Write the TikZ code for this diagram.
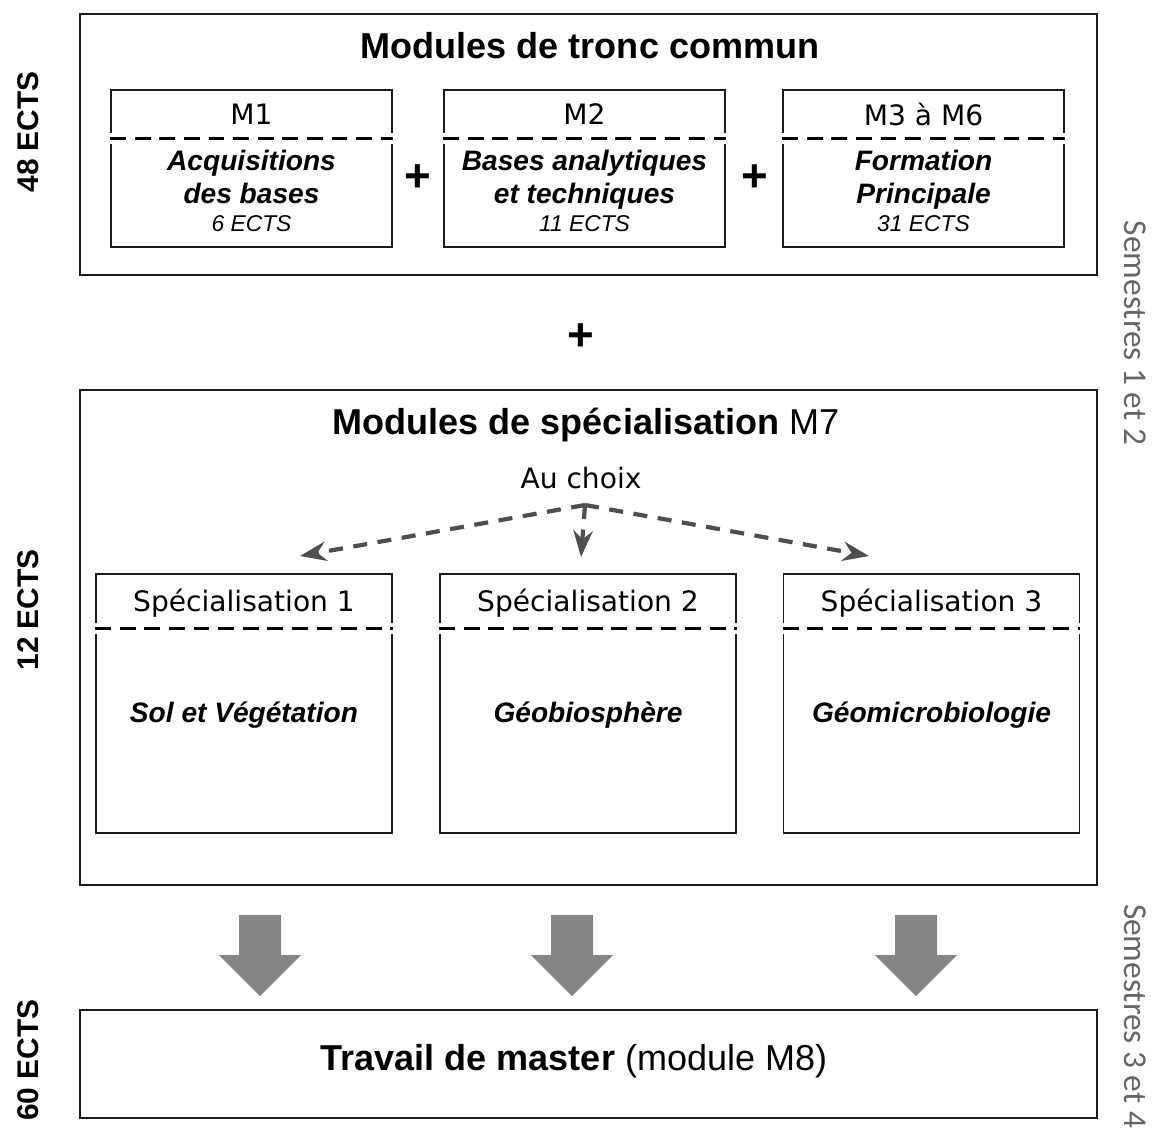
\documentclass[tikz,border=0pt]{standalone}
\usepackage{fontspec}
\setmainfont{Liberation Sans}
\newfontfamily\dejavu{DejaVu Sans}
\newfontfamily\carlito{Carlito}
\usetikzlibrary{arrows.meta,calc}
\definecolor{boxline}{HTML}{1a1a1a}
\definecolor{choixgray}{HTML}{4f4f4f}
\definecolor{blockgray}{HTML}{858585}
\definecolor{semgray}{HTML}{666666}

\begin{document}
\begin{tikzpicture}[
    x=0.02cm, y=-0.02cm,
    bigbox/.style={
        rectangle, draw=boxline, line width=1.4pt, minimum width=20.34cm
    },
    module/.style={
        rectangle, draw=boxline, line width=0.9pt,
        minimum width=5.62cm, minimum height=3.14cm
    },
    spec/.style={
        rectangle, draw=boxline, line width=0.9pt,
        minimum width=5.92cm, minimum height=5.18cm
    },
    divider/.style={draw=black, dash pattern=on 9pt off 5pt, line width=1.7pt},
    gap/.style={draw=white, line width=6pt},
    titre/.style={font=\fontsize{20.5}{24}\selectfont\bfseries, inner sep=0pt},
    code/.style={font=\dejavu\fontsize{16}{19}\selectfont, inner sep=0pt},
    nom/.style={font=\fontsize{16}{18.7}\selectfont\bfseries\itshape, align=center, inner sep=0pt},
    credits/.style={font=\fontsize{13}{15}\selectfont\itshape, inner sep=0pt},
    plus/.style={font=\fontsize{26}{26}\selectfont\bfseries, inner sep=0pt},
    ects/.style={font=\fontsize{17}{20}\selectfont\bfseries, rotate=90, inner sep=0pt},
    semestre/.style={font=\carlito\fontsize{19}{22}\selectfont, text=semgray, rotate=-90, inner sep=0pt},
    choix/.style={draw=choixgray, line width=2.4pt, dash pattern=on 8pt off 6pt,
        -{Stealth[length=15pt, width=11pt]}},
    bloc/.style={fill=blockgray, draw=none}
]

\useasboundingbox (0,0) rectangle (1155,1130);

% les trois grands cadres
\node[bigbox, minimum height=5.22cm] (tronc) at (588.5,144.5) {};
\node[bigbox, minimum height=9.9cm] (specia) at (588.5,637.5) {};
\node[bigbox, minimum height=2.16cm] (master) at (588.5,1064) {};

\node[titre] (Ttronc) at (590,46) {Modules de tronc commun};
\node[titre] (Tspecia) at (586,425) {Modules de spécialisation \textmd{M7}};
\node[titre] (Tmaster) at (574,1061) {Travail de master \textmd{(module M8)}};

% modules M1 a M6
\foreach \i/\x/\lbl/\txt/\nb in {
    1/251.5/M1/{Acquisitions\\des bases\strut}/6,
    2/584.5/M2/{Bases analytiques\\et techniques\strut}/11,
    3/923.5/M3 à M6/{Formation\\Principale\strut}/31%
} {
    \node[module] (M\i) at (\x,168.5) {};
    \draw[gap] ($(M\i.north west)+(0,49)$) -- ($(M\i.north east)+(0,49)$);
    \draw[divider] ($(M\i.north west)+(0,49)$) -- ($(M\i.north east)+(0,49)$);
    \node[code] (M\i code) at (\x,114) {\lbl};
    \node[nom] (M\i nom) at (\x,182) {\txt};
    \node[credits] (M\i ects) at (\x,224) {\nb\ ECTS};
}

\node[plus] (plus1) at (418,178) {+};
\node[plus] (plus2) at (755,178) {+};
\node[plus] (plus3) at (581,337) {+};

% specialisations
\foreach \i/\x/\txt in {
    1/244/Sol et Végétation,
    2/588/Géobiosphère,
    3/931.5/Géomicrobiologie%
} {
    \node[spec] (S\i) at (\x,703.5) {};
    \draw[gap] ($(S\i.north west)+(0,55)$) -- ($(S\i.north east)+(0,55)$);
    \draw[divider] ($(S\i.north west)+(0,55)$) -- ($(S\i.north east)+(0,55)$);
    \node[code] (S\i code) at (\x,603) {Spécialisation \i};
    \node[nom] (S\i nom) at (\x,715) {\txt};
}

\node[code] (auchoix) at (581,478) {Au choix};
\coordinate (depart) at (585,505);
\coordinate (fin1) at (300,556);
\coordinate (fin2) at (581,557);
\coordinate (fin3) at (869,556);
\foreach \i in {1,2,3}
    \draw[choix] (depart) -- (fin\i);

% fleches vers le travail de master
\foreach \x in {260,572,916}
    \fill[bloc] (\x-21,915) -- (\x+21,915) -- (\x+21,955) -- (\x+41,955)
        -- (\x,996) -- (\x-41,955) -- (\x-21,955) -- cycle;

% credits et semestres
\node[ects] (E48) at (28,132) {48 ECTS};
\node[ects] (E12) at (28,610) {12 ECTS};
\node[ects] (E60) at (28,1060) {60 ECTS};
\node[semestre] (sem12) at (1135,333) {Semestres 1 et 2};
\node[semestre] (sem34) at (1135,1016) {Semestres 3 et 4};

\end{tikzpicture}
\end{document}
